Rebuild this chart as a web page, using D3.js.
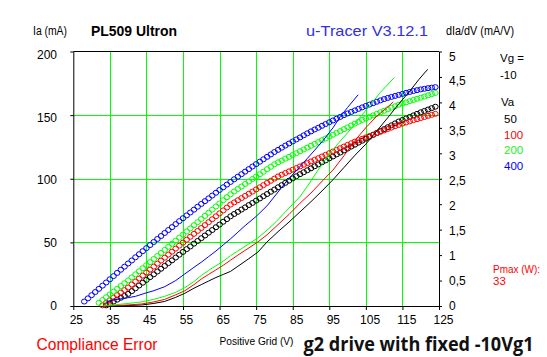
<!DOCTYPE html>
<html><head><meta charset="utf-8">
<script src="https://cdn.jsdelivr.net/npm/d3@7/dist/d3.min.js"></script>
<style>
html,body{margin:0;padding:0;background:#fff}
svg{display:block}
text{font-family:"Liberation Sans",Arial,sans-serif}
</style>
</head><body>
<svg id="chart" width="547" height="357"></svg>
<script>
// ---------- data ----------
const xTicks = [25, 35, 45, 55, 65, 75, 85, 95, 105, 115, 125];
const xGrid = [35, 45, 55, 65, 75, 85, 95, 105, 115];
const yTicks = [0, 50, 100, 150, 200];
const yGrid = [50, 100, 150];
const rTicks = [0, 0.5, 1, 1.5, 2, 2.5, 3, 3.5, 4, 4.5, 5];
const rTickLabels = ["0", "0,5", "1", "1,5", "2", "2,5", "3", "3,5", "4", "4,5", "5"];
const seriesNames = ["50", "100", "200", "400"];
const seriesColors = ["#000000", "#ff0000", "#00ff00", "#0000ff"];

// Ia (mA) vs positive grid voltage, 1 V steps starting at given voltage
const ia50Start = 34;
const ia50 = [0.5,2.0,3.5,5.0,6.5,8.0,9.5,11.7,13.9,16.1,18.3,20.5,22.7,24.9,27.1,29.3,31.5,33.7,35.9,38.1,40.3,42.5,
  44.7,46.8,49.0,51.1,53.3,55.4,57.6,59.7,61.9,64.0,66.2,68.3,70.5,72.3,74.0,75.8,77.5,79.3,81.0,82.8,84.5,86.3,88.0,
  89.8,91.5,93.3,95.0,96.8,98.5,100.3,102.0,103.6,105.1,106.7,108.2,109.8,111.3,112.9,114.4,116.0,117.5,119.1,120.6,
  122.2,123.7,125.3,126.8,128.4,129.9,131.5,133.0,134.5,136.0,137.5,139.0,140.5,142.0,143.5,145.0,146.2,147.4,148.6,
  149.8,151.0,152.2,153.3,154.4,155.5,156.6];
const ia100Start = 33;
const ia100 = [0.5,2.5,4.5,6.5,8.5,10.5,12.5,14.5,16.9,19.2,21.6,23.9,26.3,28.6,31.0,33.3,35.7,38.0,40.4,42.7,45.1,47.4,
  49.8,52.1,54.4,56.7,59.0,61.3,63.6,65.9,68.2,70.5,72.8,75.1,77.4,79.7,81.4,83.1,84.8,86.5,88.2,89.9,91.6,93.3,95.0,
  96.7,98.4,100.1,101.8,103.2,104.5,105.8,107.1,108.4,109.7,111.0,112.3,113.6,114.9,116.2,117.5,118.8,120.1,121.4,122.7,
  124.0,125.3,126.6,127.9,129.2,130.3,131.4,132.5,133.6,134.7,135.8,136.9,138.0,139.1,140.2,141.3,142.3,143.3,144.2,
  145.1,146.0,146.8,147.7,148.5,149.4,150.2,151.0];
const ia200Start = 32;
const ia200 = [2.5,4.7,6.9,9.1,11.3,13.5,15.7,17.9,20.1,22.5,24.9,27.3,29.7,32.1,34.5,36.9,39.3,41.7,44.1,46.5,48.9,51.3,
  53.7,56.1,58.6,61.0,63.5,65.9,68.4,70.8,73.3,75.7,78.2,80.6,83.1,85.5,87.8,90.0,92.0,93.9,95.9,97.8,99.8,101.7,103.6,
  105.5,107.5,109.4,111.4,112.9,114.3,115.8,117.2,118.7,120.1,121.6,123.0,124.5,125.9,127.4,128.8,130.3,131.7,133.2,
  134.6,136.1,137.5,139.0,140.4,141.9,143.3,144.8,146.2,147.4,148.6,149.8,151.0,152.2,153.4,154.6,155.8,157.0,158.2,
  159.1,160.0,161.0,161.9,162.8,163.7,164.6,165.6,166.5,167.4];
const ia400Start = 28;
const ia400 = [3.5,6.0,8.5,11.0,13.5,16.0,18.5,21.0,23.5,26.0,28.5,30.9,33.4,35.8,38.3,40.7,43.1,45.5,47.9,50.3,52.7,55.0,
  57.4,59.7,62.0,64.4,66.7,69.0,71.2,73.5,75.7,78.0,80.2,82.4,84.6,86.8,89.0,91.2,93.3,95.4,97.5,99.6,101.6,103.6,105.6,
  107.6,109.6,111.5,113.4,115.3,117.2,119.1,121.0,122.7,124.4,126.1,127.7,129.3,130.9,132.5,134.1,135.7,137.2,138.7,
  140.1,141.6,143.0,144.4,145.8,147.2,148.6,150.0,151.3,152.5,153.7,154.9,156.1,157.2,158.3,159.4,160.5,161.6,162.6,
  163.5,164.3,165.1,165.9,166.7,167.5,168.2,168.9,169.6,170.2,170.7,171.2,171.6,172.0];

// dIa/dV (mA/V) curves: voltages and values
const dv50V = [37,40,43.7,47,50,53,55.5,58,60,62,64,66,68,70,73,75.5,78,81,84,87,90,93,96,99,102,105,108,111,114,117,119.5,121.9];
const dv50G = [0,0.01,0.02,0.05,0.09,0.17,0.25,0.35,0.42,0.49,0.56,0.62,0.68,0.78,0.93,1.06,1.26,1.46,1.65,1.85,2.05,2.26,2.48,2.72,2.96,3.18,3.44,3.7,3.97,4.22,4.45,4.65];
const dv100V = [33.5,37,40,43.7,47,50,53,55.5,58,60,62,64,66,68,70,73,75.5,78,81,84,87,90,93.4,96,99,102,105.2,108,110.5,112.5];
const dv100G = [0,0.01,0.02,0.04,0.08,0.13,0.22,0.3,0.42,0.53,0.62,0.71,0.8,0.9,1.0,1.14,1.26,1.4,1.6,1.8,2.02,2.22,2.48,2.67,2.95,3.25,3.52,3.73,3.88,4.01];
const dv200V = [33,36,40,43.7,47,50,53,55.5,58,60,62,64,66,68,70,73,75.5,78,80.5,83,85,87,89,91,93,95,97.5,100.7,103,106,109,112.8];
const dv200G = [0,0.02,0.05,0.08,0.13,0.19,0.27,0.36,0.48,0.6,0.7,0.79,0.88,0.99,1.08,1.22,1.34,1.49,1.66,1.85,2.0,2.15,2.35,2.57,2.78,2.98,3.2,3.46,3.67,3.93,4.2,4.49];
const dv400V = [34,36,39,42,44.6,47,50,53,55.5,58,60,62,64,66,68,70,72,75,78,81,83.4,86,89,91,93.4,96,98,100,102.9];
const dv400G = [0.08,0.12,0.15,0.19,0.25,0.3,0.38,0.5,0.63,0.76,0.86,0.97,1.08,1.2,1.32,1.45,1.58,1.76,1.97,2.24,2.46,2.66,2.9,3.06,3.26,3.5,3.72,3.9,4.15];

// ---------- chart ----------
const svg = d3.select("#chart");
svg.append("rect").attr("width", 547).attr("height", 357).attr("fill", "#fff");

const x = d3.scaleLinear().domain([25, 125]).range([73.3, 439]);
const y = d3.scaleLinear().domain([0, 200]).range([306, 51.5]);
const yr = d3.scaleLinear().domain([0, 5]).range([306, 51.5]);
// label placement scales (labels are spread slightly differently from ticks)
const xLab = d3.scaleLinear().domain([25, 125]).range([75.8, 443]);
const yLab = d3.scaleLinear().domain([0, 200]).range([305, 54.3]);
const yrLab = d3.scaleLinear().domain([0, 5]).range([305, 55.7]);

const grid = svg.append("g").attr("shape-rendering", "crispEdges");
grid.selectAll(".vg").data(xGrid).join("line")
  .attr("x1", d => Math.round(x(d)) + 0.5).attr("x2", d => Math.round(x(d)) + 0.5)
  .attr("y1", y(200)).attr("y2", y(0)).attr("stroke", "#00ff00");
grid.selectAll(".hg").data(yGrid).join("line")
  .attr("x1", x(25)).attr("x2", x(125))
  .attr("y1", d => Math.round(y(d)) + 0.5).attr("y2", d => Math.round(y(d)) + 0.5).attr("stroke", "#00ff00");

// axes
const fs = "12px";
const gx = svg.append("g").attr("transform", `translate(0,${y(0)})`)
  .call(d3.axisBottom(x).tickValues(xTicks).tickSize(4).tickSizeOuter(0).tickPadding(5.5));
gx.selectAll("text").attr("dx", d => xLab(d) - x(d)).style("font-size", fs);
const gl = svg.append("g").attr("transform", `translate(${x(25)},0)`)
  .call(d3.axisLeft(y).tickValues(yTicks).tickSize(3).tickSizeOuter(0).tickPadding(13.3));
gl.selectAll("text").attr("dy", d => yLab(d) - y(d) + 4.3).style("font-size", fs);
const gr = svg.append("g").attr("transform", `translate(${x(125)},0)`)
  .call(d3.axisRight(yr).tickValues(rTicks).tickFormat((d, i) => rTickLabels[i]).tickSize(3).tickSizeOuter(0).tickPadding(7));
gr.selectAll("text").attr("dy", d => yrLab(d) - yr(d) + 4.3).style("font-size", fs);
[gx, gl, gr].forEach(g => { g.select(".domain").attr("stroke", "#000"); g.selectAll("line").attr("stroke", "#000"); g.attr("font-family", null).attr("font-size", null); g.selectAll("text").attr("fill", "#000"); });
svg.append("line").attr("x1", x(25)).attr("x2", x(125)).attr("y1", y(200)).attr("y2", y(200)).attr("stroke", "#000");

// circle series
const iaSets = [[ia50Start, ia50], [ia100Start, ia100], [ia200Start, ia200], [ia400Start, ia400]];
const plot = svg.append("g");
iaSets.forEach(([start, vals], si) => {
  plot.append("g").selectAll("ellipse").data(vals).join("ellipse")
    .attr("cx", (d, i) => x(start + i)).attr("cy", d => y(d)).attr("rx", 2.8).attr("ry", 2.5)
    .attr("fill", "none").attr("stroke", seriesColors[si]).attr("stroke-width", 1);
});

// derivative lines
const dvSets = [[dv50V, dv50G], [dv100V, dv100G], [dv200V, dv200G], [dv400V, dv400G]];
const line = d3.line().x(d => x(d[0])).y(d => yr(d[1]));
dvSets.forEach(([vs, gs], si) => {
  plot.append("path").datum(vs.map((v, i) => [v, gs[i]]))
    .attr("d", line).attr("fill", "none").attr("stroke", seriesColors[si]).attr("stroke-width", 1);
});

// texts
function t(txt, xx, yy, opts = {}) {
  const el = svg.append("text").attr("x", xx).attr("y", yy).text(txt)
    .style("font-size", opts.size || "12px").attr("fill", opts.color || "#000");
  if (opts.weight) el.style("font-weight", opts.weight);
  if (opts.family) el.style("font-family", opts.family);
  if (opts.anchor) el.attr("text-anchor", opts.anchor);
  if (opts.len) el.attr("textLength", opts.len).attr("lengthAdjust", "spacingAndGlyphs");
  return el;
}
t("Ia (mA)", 33, 35, {len: 34});
t("PL509 Ultron", 91, 36, {size: "14px", weight: "bold", len: 86});
t("u-Tracer V3.12.1", 306, 36, {size: "15px", color: "#3030e8", len: 122});
t("dIa/dV (mA/V)", 446, 35, {len: 68});
t("Vg =", 500, 62, {size: "11.5px"});
t("-10", 500, 79, {size: "11.5px"});
t("Va", 501, 106, {size: "11.5px"});
seriesNames.forEach((n, i) => t(n, 504, 123 + i * 15.5, {size: "11.5px", color: seriesColors[i] === "#00ff00" ? "#22ee22" : seriesColors[i]}));
t("Pmax (W):", 493, 273, {size: "11.5px", color: "#ff0000", len: 47});
t("33", 493, 285, {size: "11.5px", color: "#ff0000"});
t("Compliance Error", 36.5, 350, {size: "16px", color: "#ff0000", len: 121});
t("Positive Grid (V)", 219.5, 345, {size: "11px", len: 74});
t("g2 drive with fixed -10Vg1", 303.5, 351, {size: "19px", weight: "bold", family: "'Open Sans','Noto Sans',sans-serif", color: "#111", len: 230});
</script>
</body></html>
